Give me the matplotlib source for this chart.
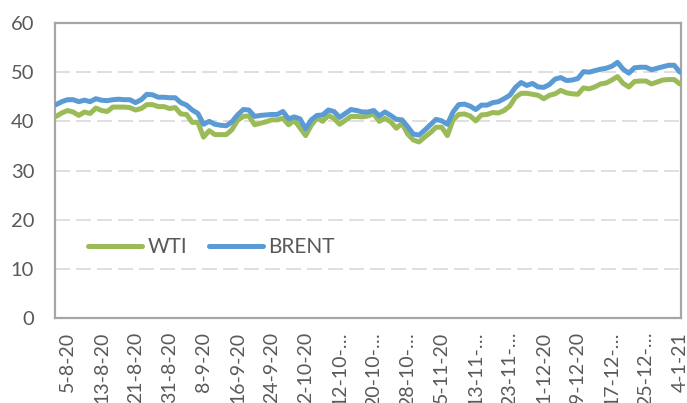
import numpy as np
import pandas as pd
import matplotlib
matplotlib.use('Agg')
import matplotlib.pyplot as plt

plt.rcParams['font.family'] = ['Lato', 'DejaVu Sans']

# Precios diarios (días hábiles) del 3-8-20 al 4-1-21
fechas = pd.bdate_range('2020-08-03', '2021-01-04')

wti = [41.0, 41.7, 42.2, 41.9, 41.2, 41.9, 41.6, 42.7, 42.2, 42.0,
       42.9, 42.9, 42.9, 42.8, 42.3, 42.6, 43.4, 43.4, 43.0, 43.0,
       42.6, 42.8, 41.5, 41.4, 39.8, 39.8, 36.8, 38.1, 37.3, 37.3,
       37.3, 38.3, 40.2, 41.0, 41.1, 39.3, 39.6, 39.9, 40.3, 40.3,
       40.6, 39.3, 40.2, 38.7, 37.1, 39.2, 40.7, 40.0, 41.2, 40.6,
       39.4, 40.2, 41.0, 41.0, 40.9, 41.1, 41.5, 40.0, 40.6, 39.9,
       38.6, 39.6, 37.4, 36.2, 35.8, 36.8, 37.7, 38.8, 38.8, 37.1,
       40.3, 41.4, 41.5, 41.1, 40.1, 41.3, 41.4, 41.8, 41.7, 42.2,
       43.1, 44.9, 45.7, 45.7, 45.5, 45.3, 44.6, 45.3, 45.6, 46.3,
       45.8, 45.6, 45.5, 46.8, 46.6, 47.0, 47.6, 47.8, 48.4, 49.1,
       47.7, 47.0, 48.1, 48.2, 48.2, 47.6, 48.0, 48.4, 48.5, 48.5,
       47.6]

brent = [43.4, 44.0, 44.4, 44.4, 44.0, 44.3, 44.0, 44.6, 44.3, 44.2,
         44.4, 44.5, 44.4, 44.4, 43.8, 44.4, 45.5, 45.4, 44.9, 44.9,
         44.8, 44.8, 43.8, 43.3, 42.3, 41.6, 39.4, 40.0, 39.4, 39.2,
         39.1, 39.9, 41.3, 42.4, 42.3, 41.0, 41.2, 41.3, 41.4, 41.4,
         42.0, 40.5, 40.9, 40.5, 38.5, 40.3, 41.2, 41.3, 42.3, 42.0,
         40.8, 41.6, 42.4, 42.2, 41.9, 41.9, 42.2, 41.1, 41.9, 41.2,
         40.4, 40.3, 38.9, 37.4, 37.2, 38.2, 39.3, 40.4, 40.1, 39.4,
         41.9, 43.4, 43.5, 43.1, 42.4, 43.3, 43.3, 43.8, 44.0, 44.6,
         45.3, 46.9, 47.9, 47.3, 47.7, 47.0, 46.9, 47.5, 48.6, 48.9,
         48.3, 48.4, 48.7, 50.1, 50.0, 50.3, 50.6, 50.8, 51.2, 52.0,
         50.6, 49.8, 50.9, 51.0, 51.0, 50.5, 50.8, 51.1, 51.4, 51.4,
         50.0]

etiquetas = ['5-8-20', '13-8-20', '21-8-20', '31-8-20', '8-9-20', '16-9-20',
             '24-9-20', '2-10-20', '12-10-…', '20-10-…', '28-10-…', '5-11-20',
             '13-11-…', '23-11-…', '1-12-20', '9-12-20', '17-12-…', '25-12-…',
             '4-1-21']

x = np.arange(len(fechas))
pos_etiquetas = x[2::6]

fig = plt.figure(figsize=(6.87, 4.03), dpi=100)
ax = fig.add_axes([55 / 687, 85 / 403, 626 / 687, 295 / 403])

ax.plot(x, wti, color='#9BBB59', lw=3.6, solid_capstyle='round',
        solid_joinstyle='round', label='WTI', zorder=3)
ax.plot(x, brent, color='#5B9BD5', lw=3.6, solid_capstyle='round',
        solid_joinstyle='round', label='BRENT', zorder=3)

ax.set_xlim(-0.2, 110.2)
ax.set_ylim(0, 60)
ax.set_yticks(range(0, 61, 10))
ax.set_xticks(pos_etiquetas)
ax.set_xticklabels(etiquetas, rotation=90, va='top', ha='center')

ax.tick_params(axis='y', length=0, pad=15, labelsize=14.5, labelcolor='#595959')
ax.tick_params(axis='x', length=0, pad=10, labelsize=14, labelcolor='#595959')

ax.grid(axis='y', color='#D9D9D9', lw=1.2, linestyle=(0, (9, 3.6)), zorder=1)
ax.set_axisbelow(True)
for s in ax.spines.values():
    s.set_color('#A6A6A6')
    s.set_linewidth(1.6)

ax.legend(loc='center left', bbox_to_anchor=(0.053, 0.24), frameon=False,
          fontsize=15, labelcolor='#595959', handlelength=2.6,
          handletextpad=0.25, columnspacing=1.05, ncol=2, borderpad=0,
          borderaxespad=0)

fig.savefig('out.png', dpi=100)
